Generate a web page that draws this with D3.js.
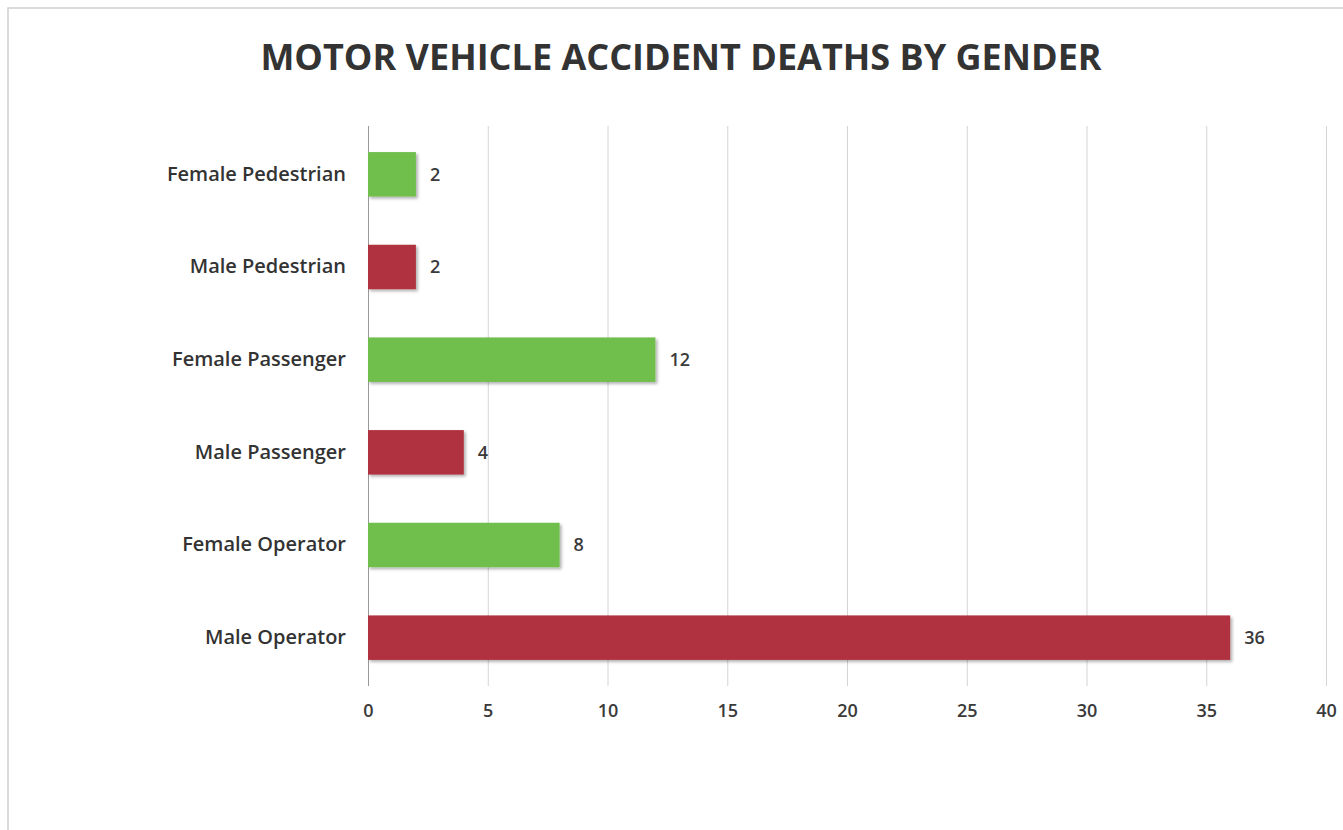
<!DOCTYPE html>
<html><head><meta charset="utf-8">
<script src="https://cdn.jsdelivr.net/npm/d3@7"></script>
<style>body{margin:0;background:#fff;} svg{display:block;}</style>
</head><body>
<svg id="c" width="1343" height="830"></svg>
<script>
const categories = ["Female Pedestrian","Male Pedestrian","Female Passenger","Male Passenger","Female Operator","Male Operator"];
const values = [2,2,12,4,8,36];
const genders = ["F","M","F","M","F","M"];
const tickValues = [0,5,10,15,20,25,30,35,40];
const colorMap = {F:"#6fbe4c", M:"#b0323f"};

const svg = d3.select("#c");
const W = 1343, H = 830;
svg.append("rect").attr("x",8).attr("y",8).attr("width",W-8+2).attr("height",H-8+2)
  .attr("fill","none").attr("stroke","#d0d0d0").attr("stroke-width",1.5);

const defs = svg.append("defs");
const f = defs.append("filter").attr("id","sh").attr("x","-10%").attr("y","-20%").attr("width","130%").attr("height","150%");
f.append("feDropShadow").attr("dx",2).attr("dy",2).attr("stdDeviation",1.5).attr("flood-color","#000").attr("flood-opacity",0.3);

const x = d3.scaleLinear().domain([0,40]).range([368,1326]);
const y = d3.scaleBand().domain(categories).range([128,684]).paddingInner(0.52).paddingOuter(0.26);

svg.append("text").attr("x",681).attr("y",70).attr("text-anchor","middle")
  .attr("font-family","Open Sans").attr("font-weight","bold").attr("font-size",36)
  .attr("fill","#333").text("MOTOR VEHICLE ACCIDENT DEATHS BY GENDER");

const gx = svg.append("g").attr("transform","translate(0,686)")
  .call(d3.axisBottom(x).tickValues(tickValues).tickSize(-560).tickFormat(d=>d).tickPadding(18));
gx.select(".domain").remove();
gx.selectAll(".tick line").attr("stroke",(d)=>d===0?"#999":"#d4d4d4").attr("stroke-width",1);
gx.selectAll(".tick text").attr("font-family","Open Sans").attr("font-weight",600).attr("font-size",18).attr("fill","#3a3a3a");

svg.append("g").selectAll("rect").data(categories).join("rect")
  .attr("x",x(0)).attr("y",d=>y(d)).attr("width",(d,i)=>x(values[i])-x(0)).attr("height",y.bandwidth())
  .attr("fill",(d,i)=>colorMap[genders[i]]).attr("filter","url(#sh)");

svg.append("g").selectAll("text").data(categories).join("text")
  .attr("x",(d,i)=>x(values[i])+14).attr("y",d=>y(d)+y.bandwidth()/2).attr("dy","0.35em")
  .attr("font-family","Open Sans").attr("font-weight",600).attr("font-size",18).attr("fill","#3a3a3a")
  .text((d,i)=>values[i]);

const gy = svg.append("g").attr("transform","translate(368,0)")
  .call(d3.axisLeft(y).tickSize(0).tickPadding(22));
gy.select(".domain").remove();
gy.selectAll(".tick text").attr("font-family","Open Sans").attr("font-weight",600).attr("font-size",20).attr("fill","#333");
</script>
</body></html>
